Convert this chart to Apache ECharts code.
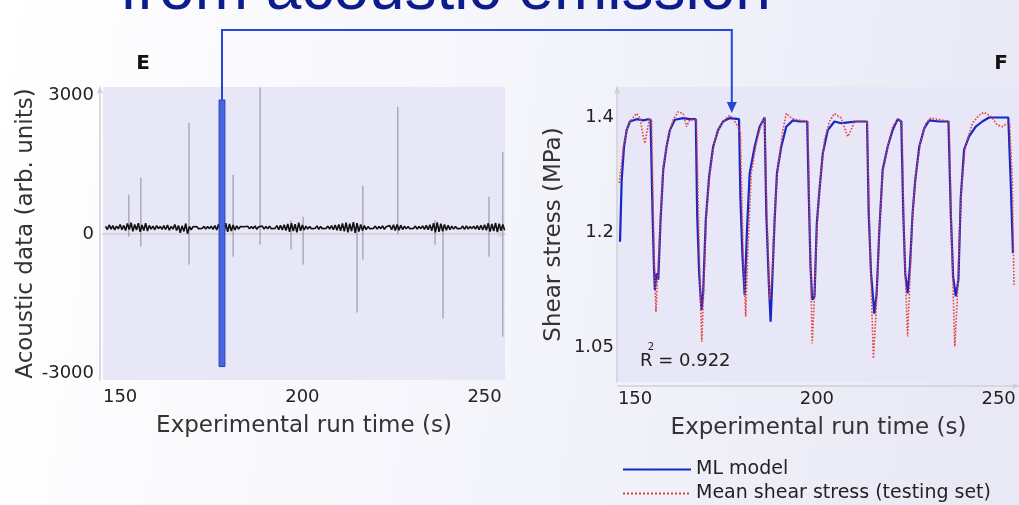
<!DOCTYPE html>
<html><head><meta charset="utf-8">
<script src="https://cdn.jsdelivr.net/npm/echarts@6/dist/echarts.min.js"></script>
<style>html,body{margin:0;padding:0;background:#fff}#c{width:1019px;height:505px}</style>
</head><body><div id="c"></div>
<script>
// ---------- DATA ----------
const xTicks = [150, 200, 250];
const acousticTicks = [-3000, 0, 3000];
const stressTickValues = [1.0, 1.2, 1.4];
const stressTickLabels = ['1.05', '1.2', '1.4'];

// acoustic trace, sampled every 0.5 s from 146 s
const acousticStart = 146, acousticStep = 0.5;
const acousticValues = [
 170, 100, 200, 110, 185, 90, 175, 115, 210, 95,
 190, 80, 230, 100, 250, 60, 210, 90, 240, 50,
 200, 80, 240, 70, 190, 110, 175, 95, 185, 120,
 165, 105, 185, 100, 200, 85, 170, 110, 210, 80,
 190, 30, 180, 60, 230, 10, 170, 95, 160, 125,
 165, 120, 160, 125, 170, 110, 165, 120, 175, 105,
 185, 90, 215, 60, 260, 40, 240, 50, 220, 70,
 200, 90, 180, 110, 165, 125, 160, 120, 170, 115,
 165, 120, 180, 105, 160, 125, 175, 110, 165, 115,
 170, 120, 160, 125, 185, 100, 190, 90, 205, 80,
 220, 50, 240, 70, 215, 40, 250, 75, 200, 90,
 175, 110, 165, 120, 160, 125, 180, 105, 165, 120,
 160, 125, 175, 110, 185, 95, 200, 85, 210, 75,
 230, 60, 250, 40, 225, 65, 260, 30, 240, 55,
 210, 80, 185, 100, 165, 120, 160, 125, 175, 110,
 165, 120, 180, 105, 160, 125, 185, 95, 205, 80,
 210, 85, 195, 100, 175, 115, 165, 120, 160, 125,
 175, 110, 165, 120, 180, 105, 190, 95, 205, 75,
 240, 40, 255, 50, 225, 60, 210, 85, 190, 100,
 175, 110, 165, 120, 160, 125, 175, 105, 180, 110,
 165, 120, 175, 110, 185, 95, 195, 90, 205, 85,
 235, 55, 220, 70, 245, 45, 225, 75, 210, 85
];
// acoustic spikes
const spikeTime = [152.4, 155.7, 168.9, 181.0, 188.4, 196.9, 200.2, 215.0, 216.6, 226.2, 236.4, 238.6, 251.2, 255.0];
const spikeLow  = [-50, -270, -658, -486, -227, -335, -658, -1694, -550, 0, -227, -1824, -486, -2212];
const spikeHigh = [853, 1220, 2407, 1284, 3170, 300, 378, 200, 1046, 2752, 300, 200, 809, 1781];
// highlighted window
const windowStart = 177.15, windowEnd = 178.75, windowLow = -2860, windowHigh = 2900;

// ML model
const mlTime = [145.85,146.31,146.95,147.68,148.59,150.42,152.25,153.62,154.26,154.81,155.18,155.45,155.91,156.37,157.01,157.74,158.65,159.57,160.94,163.23,165.06,166.70,167.07,167.62,168.26,168.71,169.45,170.36,171.46,172.83,174.20,176.03,178.59,178.96,179.50,180.14,180.78,181.52,182.89,184.26,185.63,186.09,186.82,187.28,187.74,188.38,189.02,190.20,191.58,193.40,195.23,197.34,197.79,198.25,198.71,199.35,199.99,200.72,201.64,203.01,204.84,206.67,208.04,210.78,213.80,214.26,214.90,215.81,216.45,217.18,218.10,219.47,220.84,222.21,223.22,223.77,224.31,224.96,225.60,226.33,227.06,228.16,229.53,230.90,233.64,236.20,236.84,237.48,238.22,238.94,239.59,240.50,241.87,243.70,245.53,247.36,252.66,253.30,253.94];
const mlValue = [1.183,1.290,1.348,1.377,1.392,1.396,1.394,1.396,1.395,1.232,1.140,1.099,1.128,1.117,1.221,1.308,1.348,1.377,1.395,1.398,1.396,1.396,1.232,1.128,1.064,1.093,1.221,1.296,1.348,1.377,1.392,1.398,1.396,1.261,1.163,1.090,1.203,1.302,1.348,1.383,1.399,1.232,1.105,1.044,1.117,1.221,1.302,1.348,1.383,1.394,1.392,1.392,1.261,1.140,1.082,1.088,1.215,1.273,1.337,1.377,1.392,1.389,1.390,1.392,1.392,1.232,1.128,1.058,1.093,1.203,1.308,1.348,1.377,1.396,1.392,1.232,1.128,1.093,1.140,1.232,1.290,1.348,1.380,1.394,1.392,1.392,1.232,1.122,1.088,1.117,1.261,1.343,1.366,1.383,1.392,1.399,1.399,1.290,1.163];

// Mean shear stress (testing set)
const meanTime = [145.67,146.77,147.68,148.59,150.42,151.34,152.25,152.71,153.35,153.90,154.54,155.18,155.73,156.37,157.01,157.74,159.11,160.48,161.86,163.23,164.14,165.06,166.88,167.62,168.35,168.90,169.63,170.54,171.91,173.29,175.12,176.03,177.40,178.32,178.96,179.69,180.42,181.06,181.97,183.35,184.72,185.63,186.27,187.00,187.74,188.38,189.29,190.66,191.58,192.95,194.32,197.52,198.16,198.71,199.35,199.99,200.90,202.09,203.46,204.84,206.67,208.49,209.41,210.32,213.80,214.62,215.54,216.27,217.18,218.10,219.47,220.84,222.21,223.40,224.04,224.96,225.60,226.33,227.24,228.61,229.99,231.36,236.39,237.12,237.94,238.67,239.59,240.78,242.79,244.62,245.99,247.82,249.65,251.02,252.39,253.03,253.76,254.22];
const meanValue = [1.285,1.348,1.377,1.392,1.406,1.398,1.366,1.354,1.377,1.395,1.395,1.174,1.061,1.145,1.232,1.314,1.366,1.395,1.409,1.406,1.383,1.395,1.395,1.174,1.009,1.105,1.232,1.302,1.360,1.383,1.398,1.403,1.392,1.383,1.372,1.174,1.053,1.174,1.302,1.354,1.389,1.398,1.232,1.082,1.128,1.232,1.314,1.377,1.406,1.398,1.395,1.392,1.174,1.006,1.088,1.203,1.290,1.360,1.392,1.406,1.398,1.366,1.377,1.392,1.392,1.174,0.980,1.058,1.203,1.302,1.348,1.383,1.396,1.392,1.174,1.018,1.117,1.232,1.302,1.360,1.389,1.398,1.392,1.174,1.001,1.088,1.261,1.348,1.389,1.403,1.408,1.401,1.386,1.383,1.389,1.389,1.290,1.105];

// ---------- CHART ----------
const FONT = 'DejaVu Sans';
const chart = echarts.init(document.getElementById('c'), null, {renderer: 'canvas'});

const axisLineStyle = {show: true, lineStyle: {color: '#cfcfd6', width: 1.5}, symbol: ['none', 'arrow'], symbolSize: [5, 7]};
const labelStyle = {fontFamily: FONT, fontSize: 18, color: '#222'};
const nameStyle = {fontFamily: FONT, fontSize: 23, color: '#333'};
const legendCommon = {
  orient: 'vertical', left: 622, itemWidth: 68, itemHeight: 12, padding: 0,
  itemStyle: {opacity: 0, borderWidth: 0},
  textStyle: {fontFamily: FONT, fontSize: 19, color: '#222'}
};

const option = {
  animation: false,
  backgroundColor: {
    type: 'linear', x: 0, y: 0, x2: 1, y2: 0.3,
    colorStops: [{offset: 0, color: '#ffffff'}, {offset: 0.45, color: '#f6f6fc'}, {offset: 1, color: '#e9e9f6'}]
  },
  grid: [
    {left: 103, top: 87, width: 402, height: 293, show: true, backgroundColor: '#e7e7f7', borderWidth: 0},
    {left: 618, top: 87, width: 402, height: 295, show: true, backgroundColor: '#e7e7f7', borderWidth: 0}
  ],
  xAxis: [0, 1].map(i => ({
    type: 'value', gridIndex: i, min: 145.3, max: 255.6, offset: 4,
    axisLine: axisLineStyle, axisTick: {show: false}, splitLine: {show: false},
    axisLabel: Object.assign({customValues: xTicks, margin: 4, formatter: v => String(v)}, labelStyle),
    name: 'Experimental run time (s)', nameLocation: 'middle', nameGap: 31, nameTextStyle: nameStyle
  })),
  yAxis: [
    {
      type: 'value', gridIndex: 0, min: -3150, max: 3180, offset: 3,
      axisLine: axisLineStyle, axisTick: {show: false}, splitLine: {show: false},
      axisLabel: Object.assign({customValues: acousticTicks, margin: 6, formatter: v => String(v)}, labelStyle),
      name: 'Acoustic data (arb. units)', nameLocation: 'middle', nameGap: 58, nameTextStyle: nameStyle
    },
    {
      type: 'value', gridIndex: 1, min: 0.939, max: 1.452, offset: 1,
      axisLine: axisLineStyle, axisTick: {show: false}, splitLine: {show: false},
      axisLabel: Object.assign({
        customValues: stressTickValues, margin: 3,
        formatter: v => { const k = stressTickValues.findIndex(t => Math.abs(t - v) < 1e-6); return k >= 0 ? stressTickLabels[k] : ''; }
      }, labelStyle),
      name: 'Shear stress (MPa)', nameLocation: 'middle', nameGap: 51, nameTextStyle: nameStyle
    }
  ],
  legend: [
    Object.assign({top: 460, data: ['ML model']}, legendCommon),
    Object.assign({top: 484, data: ['Mean shear stress (testing set)']}, legendCommon)
  ],
  series: [
    {
      name: 'Acoustic', type: 'line', xAxisIndex: 0, yAxisIndex: 0, symbol: 'none', z: 3,
      lineStyle: {color: '#111111', width: 1.6},
      data: acousticValues.map((v, i) => [acousticStart + i * acousticStep, v])
    },
    {
      name: 'Spikes', type: 'custom', xAxisIndex: 0, yAxisIndex: 0, z: 2, clip: true,
      data: spikeTime.map((t, i) => [t, spikeLow[i], spikeHigh[i]]),
      renderItem: (params, api) => {
        const a = api.coord([api.value(0), api.value(1)]);
        const b = api.coord([api.value(0), api.value(2)]);
        return {type: 'line', shape: {x1: a[0], y1: a[1], x2: b[0], y2: b[1]}, style: {stroke: '#8c8c98', lineWidth: 1}};
      }
    },
    {
      name: 'Window', type: 'custom', xAxisIndex: 0, yAxisIndex: 0, z: 5,
      data: [[windowStart, windowEnd, windowLow, windowHigh]],
      renderItem: (params, api) => {
        const a = api.coord([api.value(0), api.value(3)]);
        const b = api.coord([api.value(1), api.value(2)]);
        return {type: 'rect', shape: {x: a[0], y: a[1], width: b[0] - a[0], height: b[1] - a[1]},
                style: {fill: '#4766dd', stroke: '#2440c4', lineWidth: 1}};
      }
    },
    {
      name: 'ML model', type: 'line', xAxisIndex: 1, yAxisIndex: 1, symbol: 'none', z: 3,
      lineStyle: {color: '#1626c8', width: 2.2},
      itemStyle: {color: '#1626c8'},
      data: mlTime.map((t, i) => [t, mlValue[i]])
    },
    {
      name: 'Mean shear stress (testing set)', type: 'line', xAxisIndex: 1, yAxisIndex: 1, symbol: 'none', z: 4,
      lineStyle: {color: '#e8403a', width: 1.6, type: 'dotted'},
      itemStyle: {color: '#e8403a'},
      data: meanTime.map((t, i) => [t, meanValue[i]])
    }
  ]
};
chart.setOption(option);

// connector from the highlighted window to the corresponding point of panel F
const p1 = chart.convertToPixel({xAxisIndex: 0, yAxisIndex: 0}, [(windowStart + windowEnd) / 2, windowHigh]);
const p2 = chart.convertToPixel({xAxisIndex: 1, yAxisIndex: 1}, [176.6, 1.407]);
const topY = 30;
chart.setOption({
  graphic: [
    {type: 'text', left: 120, top: -41, z: 10,
     style: {text: 'from acoustic emission', font: '64px "Liberation Sans"', fill: '#0c1c8c'}},
    {type: 'text', x: 143, y: 64, style: {text: 'E', font: 'bold 20px "DejaVu Sans"', fill: '#111', align: 'center', verticalAlign: 'middle'}},
    {type: 'text', x: 1001, y: 64, style: {text: 'F', font: 'bold 20px "DejaVu Sans"', fill: '#111', align: 'center', verticalAlign: 'middle'}},
    {type: 'text', x: 640, y: 361, z: 10, style: {text: 'R = 0.922', font: '18px "DejaVu Sans"', fill: '#222', verticalAlign: 'middle'}},
    {type: 'text', x: 651, y: 347, z: 10, style: {text: '2', font: '10px "DejaVu Sans"', fill: '#222', align: 'center', verticalAlign: 'middle'}},
    {type: 'polyline', z: 10, shape: {points: [[p1[0], p1[1]], [p1[0], topY], [p2[0], topY], [p2[0], p2[1] - 9]]},
     style: {stroke: '#2447d4', lineWidth: 2, fill: null}},
    {type: 'polygon', z: 10, shape: {points: [[p2[0] - 5, p2[1] - 11], [p2[0] + 5, p2[1] - 11], [p2[0], p2[1]]]},
     style: {fill: '#2447d4'}}
  ]
});
</script>
</body></html>
